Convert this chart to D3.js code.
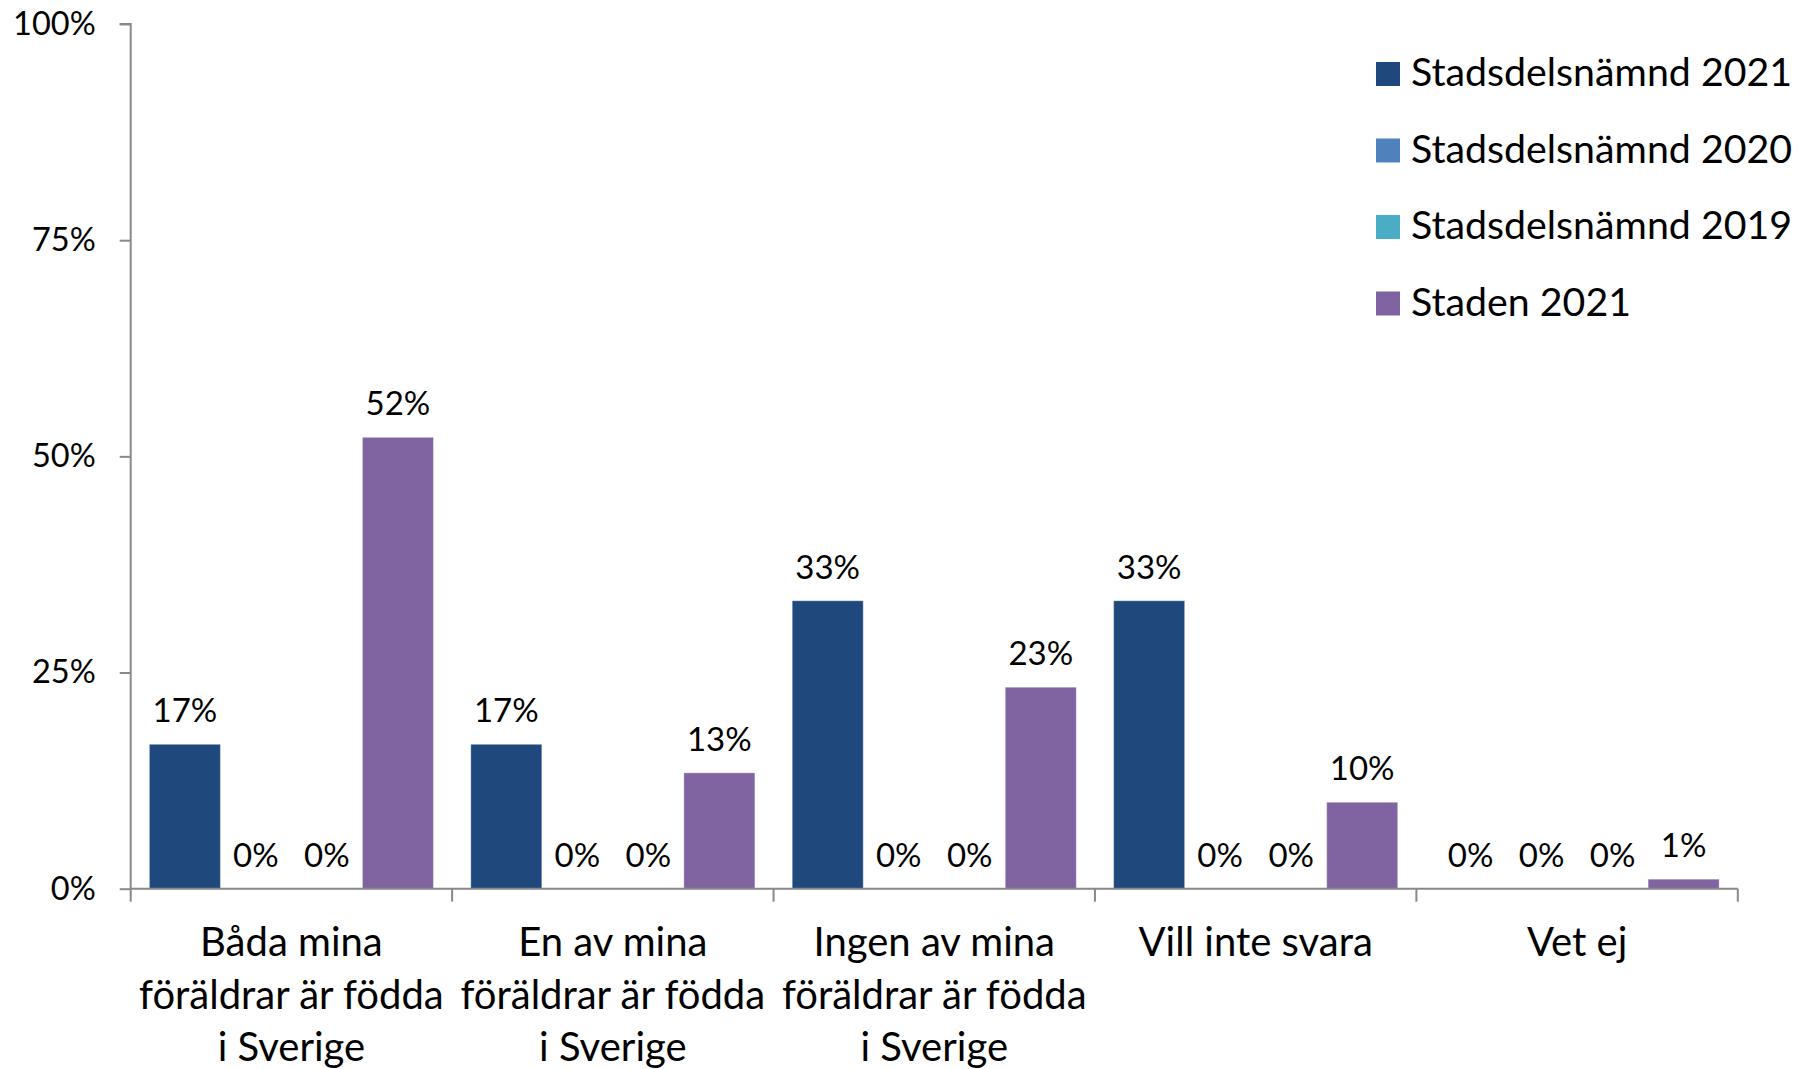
<!DOCTYPE html>
<html><head><meta charset="utf-8">
<script src="https://cdn.jsdelivr.net/npm/d3@7"></script>
<style>body{margin:0;background:#fff}svg{display:block}text{font-family:Lato,"Open Sans",sans-serif;fill:#000}</style>
</head><body>
<script>
const categories = [
  ["Båda mina","föräldrar är födda","i Sverige"],
  ["En av mina","föräldrar är födda","i Sverige"],
  ["Ingen av mina","föräldrar är födda","i Sverige"],
  ["Vill inte svara"],
  ["Vet ej"]
];
const seriesNames = ["Stadsdelsnämnd 2021","Stadsdelsnämnd 2020","Stadsdelsnämnd 2019","Staden 2021"];
const seriesColors = ["#1F497D","#4F81BD","#4BACC6","#8064A2"];
const sdn2021 = [16.7, 16.7, 33.3, 33.3, 0];
const sdn2020 = [0, 0, 0, 0, 0];
const sdn2019 = [0, 0, 0, 0, 0];
const staden2021 = [52.2, 13.4, 23.3, 10.0, 1.1];
const yTicks = [0, 25, 50, 75, 100];

(function(){
const seriesValues = [sdn2021, sdn2020, sdn2019, staden2021];
const W = 1814, H = 1069;
const svg = d3.select("body").append("svg").attr("width", W).attr("height", H);

const pLeft = 130.7, pRight = 1737.8, pTop = 24, pBottom = 888.7;
const catKeys = categories.map((c,i)=>i);
const x0 = d3.scaleBand().domain(catKeys).range([pLeft, pRight]).padding(0);
const x1 = d3.scaleBand().domain(d3.range(seriesNames.length)).range([0, x0.bandwidth()]).paddingInner(0).paddingOuter(0.263);
const y = d3.scaleLinear().domain([0, 100]).range([pBottom, pTop]);

// bars
const g = svg.append("g");
catKeys.forEach(ci => {
  seriesValues.forEach((vals, si) => {
    const v = vals[ci];
    const bx = x0(ci) + x1(si);
    if (v > 0) {
      g.append("rect").attr("x", bx).attr("y", y(v)).attr("width", x1.bandwidth()).attr("height", y(0) - y(v))
        .attr("fill", seriesColors[si]).attr("stroke", "rgba(255,255,255,0.35)").attr("stroke-width", 1);
    }
    g.append("text").attr("x", bx + x1.bandwidth()/2).attr("y", y(v) - 22)
      .attr("text-anchor", "middle").style("font-size", "33px")
      .text(Math.round(v) + "%");
  });
});

// y axis
const yAxis = d3.axisLeft(y).tickValues(yTicks).tickFormat(d => d + "%").tickSize(11).tickPadding(24);
const ya = svg.append("g").attr("transform", `translate(${pLeft},0)`).call(yAxis);
ya.selectAll("path, line").attr("stroke", "#898989").attr("stroke-width", 2);
ya.select(".domain").attr("d", `M-11,${pTop}H0V${pBottom}`);
ya.selectAll("text").style("font-size", "32.5px").style("font-family", "Lato").attr("fill", "#000");

// x axis
const xa = svg.append("g");
xa.append("line").attr("x1", pLeft).attr("x2", pRight).attr("y1", pBottom).attr("y2", pBottom).attr("stroke", "#898989").attr("stroke-width", 2);
const bounds = catKeys.map(c => x0(c)).concat([pRight]);
xa.selectAll("line.tick").data(bounds).enter().append("line").attr("class","tick")
  .attr("x1", d=>d).attr("x2", d=>d).attr("y1", pBottom).attr("y2", pBottom + 13)
  .attr("stroke", "#898989").attr("stroke-width", 2);
catKeys.forEach(ci => {
  const t = xa.append("text").attr("text-anchor", "middle").style("font-size", "40px");
  categories[ci].forEach((line, li) => {
    t.append("tspan").attr("x", x0(ci) + x0.bandwidth()/2).attr("y", 956 + li*52.5).text(line);
  });
});

// legend
const lg = svg.append("g");
seriesNames.forEach((name, i) => {
  const yy = 86 + i*76.5;
  lg.append("rect").attr("x", 1376).attr("y", yy - 24).attr("width", 24).attr("height", 24).attr("fill", seriesColors[i]);
  lg.append("text").attr("x", 1411).attr("y", yy).style("font-size", "39.3px").text(name);
});
})();
</script>
</body></html>
